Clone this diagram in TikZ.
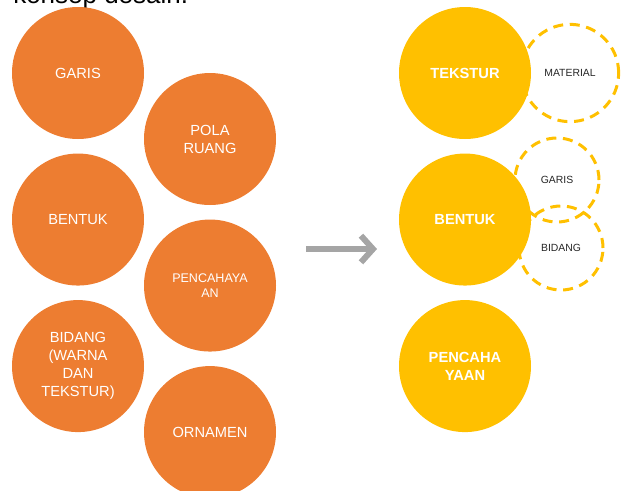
\documentclass[tikz,border=0pt]{standalone}
\usepackage{fontspec}
\setmainfont{Liberation Sans}
\usepackage{tikz}
\usetikzlibrary{positioning,arrows.meta}
\definecolor{orange1}{HTML}{ED7D31}
\definecolor{gold1}{HTML}{FFC000}
\definecolor{gray1}{HTML}{A5A5A5}
\definecolor{ink1}{HTML}{262626}

\begin{document}
\begin{tikzpicture}[
    x=0.75pt, y=-0.75pt,
    node distance=10.5pt,
    orb/.style={circle, fill=orange1, minimum size=99pt, inner sep=0pt,
                align=center, text=white,
                font=\fontsize{11}{13.5}\selectfont},
    gold/.style={circle, fill=gold1, minimum size=99pt, inner sep=0pt,
                 align=center, text=white,
                 font=\bfseries\fontsize{11}{13.5}\selectfont},
    subring/.style={circle, draw=gold1, line width=2.25pt,
                    dash pattern=on 7.5pt off 5pt, inner sep=0pt,
                    text=ink1, font=\fontsize{7.8}{9}\selectfont},
    flow/.style={-{Straight Barb[length=9pt,width=20pt]},
                 line width=4.5pt, color=gray1},
]
\useasboundingbox (0,0) rectangle (622,490);

% ── title (cut at the top) ──
\node[anchor=base west, inner sep=0pt, font=\fontsize{19.5}{22}\selectfont]
    (title) at (13,3) {konsep desain.};

% ── left: orange circles ──
\node[orb] (garis) at (78,73) {GARIS};
\node[orb, below=of garis] (bentuk) {BENTUK};
\node[orb, below=of bentuk] (bidang) {BIDANG\\(WARNA\\DAN\\TEKSTUR)};

\node[orb] (pola) at (210,139) {POLA\\RUANG};
\node[orb, below=of pola, font=\fontsize{9.4}{11.8}\selectfont]
    (cahaya) {PENCAHAYA\\AN};
\node[orb, below=of cahaya] (ornamen) {ORNAMEN};

% ── right: yellow circles ──
\node[gold] (tekstur) at (465,73) {TEKSTUR};
\node[gold, below=of tekstur] (rbentuk) {BENTUK};
\node[gold, below=of rbentuk] (rcahaya) {PENCAHA\\YAAN};

% ── dashed sub circles ──
\node[subring, minimum size=73pt] (material) at (570,73) {MATERIAL};
\node[subring, minimum size=63pt] (rgaris) at (557,180) {GARIS};
\node[subring, minimum size=63pt] (rbidang) at (561,248) {BIDANG};

% ── arrow ──
\coordinate (from) at (306,249);
\coordinate (to) at (377,249);
\draw[flow] (from) -- (to);

\end{tikzpicture}
\end{document}
